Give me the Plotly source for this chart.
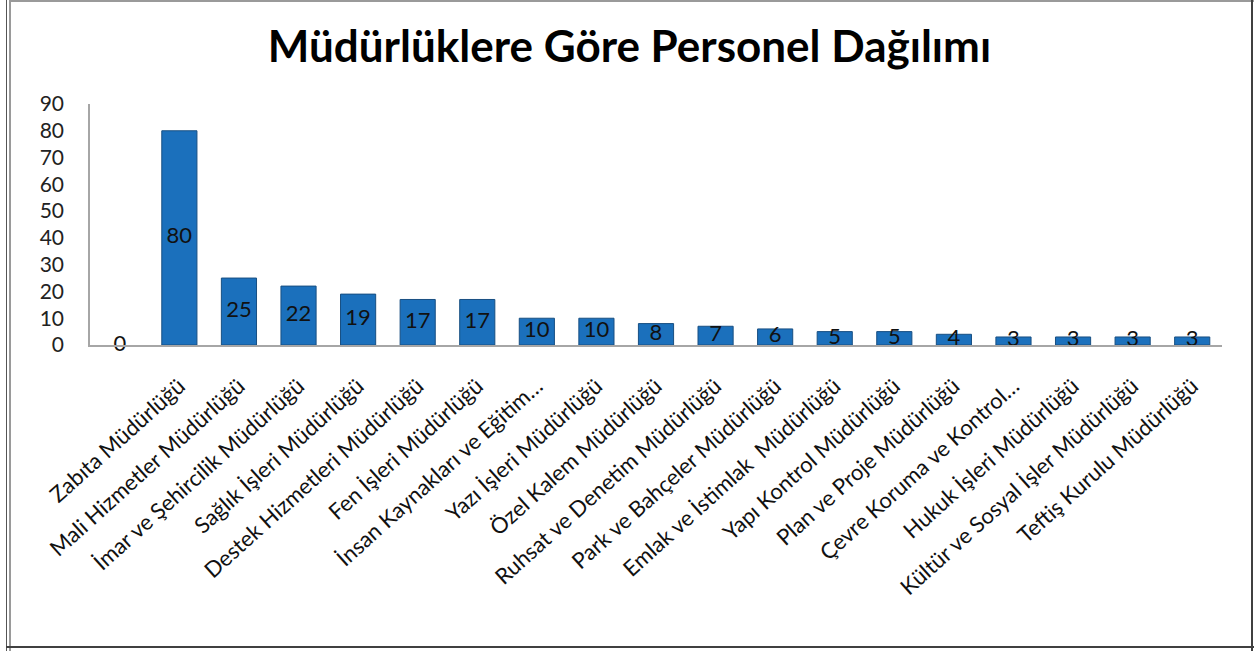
import plotly.graph_objects as go

categories = ["", "Zabıta Müdürlüğü", "Mali Hizmetler Müdürlüğü", "İmar ve Şehircilik Müdürlüğü",
              "Sağlık İşleri Müdürlüğü", "Destek Hizmetleri Müdürlüğü", "Fen İşleri Müdürlüğü",
              "İnsan Kaynakları ve Eğitim…", "Yazı İşleri Müdürlüğü", "Özel Kalem Müdürlüğü",
              "Ruhsat ve Denetim Müdürlüğü", "Park ve Bahçeler Müdürlüğü", "Emlak ve İstimlak  Müdürlüğü",
              "Yapı Kontrol Müdürlüğü", "Plan ve Proje Müdürlüğü", "Çevre Koruma ve Kontrol…",
              "Hukuk İşleri Müdürlüğü", "Kültür ve Sosyal İşler Müdürlüğü", "Teftiş Kurulu Müdürlüğü"]
values = [0, 80, 25, 22, 19, 17, 17, 10, 10, 8, 7, 6, 5, 5, 4, 3, 3, 3, 3]
y_ticks = [0, 10, 20, 30, 40, 50, 60, 70, 80, 90]

FONT = "Lato"
x_idx = list(range(len(categories)))

W, H = 1254, 651
L, R, T, B = 90, 32, 104, 306
PW, PH = W - L - R, H - T - B


def px(x):
    return (x - L) / PW


def py(y):
    return (H - B - y) / PH


fig = go.Figure()
fig.add_trace(go.Bar(
    x=x_idx, y=values,
    marker=dict(color="#1b70bc",
                line=dict(color="#184f82", width=[1 if v > 0 else 0 for v in values])),
    width=0.59, hoverinfo="skip",
))
fig.add_trace(go.Scatter(
    x=x_idx, y=[v / 2 for v in values], mode="text",
    text=[str(v) for v in values],
    textfont=dict(family=FONT, size=22, color="#111111"),
    hoverinfo="skip", cliponaxis=False,
))

frame = [
    (6.5, 0, 6.5, H, "#555555", 1),
    (10, 0, 10, H, "#9a9a9a", 2),
    (10, 1, W, 1, "#9a9a9a", 2),
    (1252, 0, 1252, H, "#404040", 2),
    (6, 647, W, 647, "#404040", 2),
]
shapes = [dict(type="line", xref="paper", yref="paper",
               x0=px(a), y0=py(b), x1=px(c), y1=py(d),
               line=dict(color=col, width=w)) for a, b, c, d, col, w in frame]

fig.update_layout(
    width=W, height=H,
    margin=dict(l=L, r=R, t=T, b=B, autoexpand=False),
    paper_bgcolor="white", plot_bgcolor="white",
    showlegend=False,
    title=dict(text="<b>Müdürlüklere Göre Personel Dağılımı</b>",
               x=629.5 / W, xref="container", xanchor="center",
               y=1 - 47 / H, yref="container", yanchor="middle",
               font=dict(family=FONT, size=44, color="#000000")),
    xaxis=dict(
        tickmode="array", tickvals=x_idx, ticktext=categories,
        tickangle=-42, range=[-0.5, len(categories) - 0.5],
        tickfont=dict(family=FONT, size=22, color="#111111"),
        showgrid=False, zeroline=False, automargin=False,
        showline=True, linecolor="#a6a6a6", linewidth=1.5, ticks="",
        ticklabelstandoff=18,
    ),
    yaxis=dict(
        range=[0, 90], tickmode="array", tickvals=y_ticks,
        tickfont=dict(family=FONT, size=21, color="#222222"),
        showgrid=False, zeroline=False, automargin=False,
        showline=True, linecolor="#a6a6a6", linewidth=1.5, ticks="",
        ticklabelstandoff=20,
    ),
    shapes=shapes,
)

fig.write_html("out.html", config={"displayModeBar": False},
               post_script="document.body.style.margin='0';document.body.style.overflow='hidden';")
